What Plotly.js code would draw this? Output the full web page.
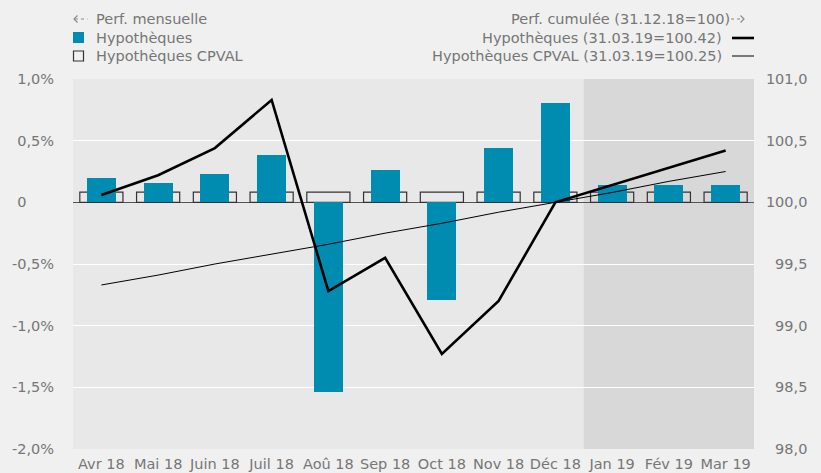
<!DOCTYPE html>
<html>
<head>
<meta charset="utf-8">
<script src="https://cdn.plot.ly/plotly-3.0.1.min.js"></script>
<style>html,body{margin:0;padding:0;background:#f0f0f0;}#chart{width:821px;height:473px;}</style>
</head>
<body>
<div id="chart"></div>
<script>
// ---- data ----
var months = ["Avr 18","Mai 18","Juin 18","Juil 18","Aoû 18","Sep 18","Oct 18","Nov 18","Déc 18","Jan 19","Fév 19","Mar 19"];
var hypMonthly = [0.195, 0.155, 0.228, 0.382, -1.54, 0.26, -0.79, 0.44, 0.805, 0.138, 0.138, 0.138];
var cpvalMonthly = [0.083, 0.083, 0.083, 0.083, 0.083, 0.083, 0.083, 0.083, 0.083, 0.083, 0.083, 0.083];
var hypCum = [100.06, 100.22, 100.44, 100.83, 99.28, 99.55, 98.77, 99.20, 100.00, 100.14, 100.28, 100.42];
var cpvalCum = [99.33, 99.41, 99.50, 99.58, 99.66, 99.75, 99.83, 99.92, 100.00, 100.08, 100.17, 100.25];
var leftTickVals = [-2, -1.5, -1, -0.5, 0, 0.5, 1];
var leftTickText = ["-2,0%", "-1,5%", "-1,0%", "-0,5%", "0\u2007\u2007\u2007", "0,5%", "1,0%"];
var rightTickVals = [98, 98.5, 99, 99.5, 100, 100.5, 101];
var rightTickText = ["\u200798,0", "\u200798,5", "\u200799,0", "\u200799,5", "100,0", "100,5", "101,0"];
var shadedFrom = "Jan 19", shadedTo = "Mar 19";
var legendLeftTitle = "Perf. mensuelle";
var legendRightTitle = "Perf. cumulée (31.12.18=100)";
var nameHyp = "Hypothèques";
var nameCpval = "Hypothèques CPVAL";
var nameHypCum = "Hypothèques (31.03.19=100.42)";
var nameCpvalCum = "Hypothèques CPVAL (31.03.19=100.25)";

// ---- style ----
var FONT = "DejaVu Sans";
var FS = 14.5;
var GREY = "#767676";
var BLUE = "#008cb0";
var W = 821, H = 473, L = 73, R = 754, T = 79, B = 449;
function px(x){ return (x - L) / (R - L); }
function py(y){ return (B - y) / (B - T); }
function pathOf(pts){ return pts.map(function(p, i){ return (i ? "L" : "M") + px(p[0]) + "," + py(p[1]); }).join(" "); }

var traces = [
  {type:"bar", x:months, y:cpvalMonthly, width:0.76, name:nameCpval,
   marker:{color:"rgba(0,0,0,0)", line:{color:"#333333", width:1.2}}, hoverinfo:"skip", showlegend:false},
  {type:"bar", x:months, y:hypMonthly, width:0.51, name:nameHyp,
   marker:{color:BLUE, line:{width:0}}, hoverinfo:"skip", showlegend:false},
  {type:"scatter", mode:"lines", x:months, y:cpvalCum, yaxis:"y2", name:nameCpvalCum,
   line:{color:"#000", width:1}, hoverinfo:"skip", showlegend:false},
  {type:"scatter", mode:"lines", x:months, y:hypCum, yaxis:"y2", name:nameHypCum,
   line:{color:"#000", width:2.6}, hoverinfo:"skip", showlegend:false}
];

var iFrom = months.indexOf(shadedFrom), iTo = months.indexOf(shadedTo);
var ARROWC = "#8a8a8a";
var shapes = [
  {type:"rect", xref:"x", yref:"paper", x0:iFrom-0.5, x1:iTo+0.5, y0:0, y1:1,
   fillcolor:"#d8d8d8", line:{width:0}, layer:"below"},
  // legend arrows (dashed)
  {type:"path", xref:"paper", yref:"paper", path:pathOf([[77.5,15.5],[74,19],[77.5,22.5]]), line:{color:ARROWC, width:1.2}},
  {type:"line", xref:"paper", yref:"paper", x0:px(75), x1:px(87.5), y0:py(19), y1:py(19), line:{color:ARROWC, width:1.2, dash:"dot"}},
  {type:"path", xref:"paper", yref:"paper", path:pathOf([[740.5,15.5],[744,19],[740.5,22.5]]), line:{color:ARROWC, width:1.2}},
  {type:"line", xref:"paper", yref:"paper", x0:px(731), x1:px(743), y0:py(19), y1:py(19), line:{color:ARROWC, width:1.2, dash:"dot"}},
  // legend symbols
  {type:"rect", xref:"paper", yref:"paper", x0:px(73), x1:px(84), y0:py(43), y1:py(32),
   fillcolor:BLUE, line:{width:0}},
  {type:"rect", xref:"paper", yref:"paper", x0:px(73.5), x1:px(83.5), y0:py(61), y1:py(51),
   fillcolor:"rgba(0,0,0,0)", line:{color:"#333", width:1.2}},
  {type:"line", xref:"paper", yref:"paper", x0:px(732), x1:px(754), y0:py(38), y1:py(38),
   line:{color:"#000", width:2.6}},
  {type:"line", xref:"paper", yref:"paper", x0:px(732), x1:px(754), y0:py(56), y1:py(56),
   line:{color:"#000", width:1}}
];

function ann(text, x, y, anchor){
  return {text:text, xref:"paper", yref:"paper", x:px(x), y:py(y), xanchor:anchor, yanchor:"middle",
          showarrow:false, font:{family:FONT, size:FS, color:GREY}};
}
var annotations = [
  ann(legendLeftTitle, 94, 19, "left"),
  ann(nameHyp, 94, 38, "left"),
  ann(nameCpval, 94, 56, "left"),
  ann(legendRightTitle, 732, 19, "right"),
  ann(nameHypCum, 724, 38, "right"),
  ann(nameCpvalCum, 724, 56, "right")
];

var layout = {
  width:W, height:H,
  margin:{l:L, r:W-R, t:T, b:H-B, pad:0},
  paper_bgcolor:"#f0f0f0", plot_bgcolor:"#e8e8e8",
  font:{family:FONT, size:FS, color:GREY},
  barmode:"overlay", bargap:0,
  showlegend:false,
  xaxis:{type:"category", categoryorder:"array", categoryarray:months, showgrid:false, zeroline:false,
         showline:false, ticks:"outside", ticklen:2, tickcolor:"rgba(0,0,0,0)",
         tickfont:{family:FONT, size:FS, color:GREY}, range:[-0.5, months.length-0.5], fixedrange:true},
  yaxis:{range:[-2, 1], tickvals:leftTickVals, ticktext:leftTickText, showgrid:true, gridcolor:"#ffffff", gridwidth:1,
         zeroline:true, zerolinecolor:"#555555", zerolinewidth:1, showline:false,
         ticks:"outside", ticklen:15, tickcolor:"rgba(0,0,0,0)",
         tickfont:{family:FONT, size:FS, color:GREY}, fixedrange:true},
  yaxis2:{range:[98, 101], overlaying:"y", side:"right", tickvals:rightTickVals, ticktext:rightTickText,
          showgrid:false, zeroline:false, showline:false, ticks:"outside", ticklen:8, tickcolor:"rgba(0,0,0,0)",
          tickfont:{family:FONT, size:FS, color:GREY}, fixedrange:true},
  shapes:shapes,
  annotations:annotations
};

Plotly.newPlot("chart", traces, layout, {displayModeBar:false, staticPlot:true});
</script>
</body>
</html>
